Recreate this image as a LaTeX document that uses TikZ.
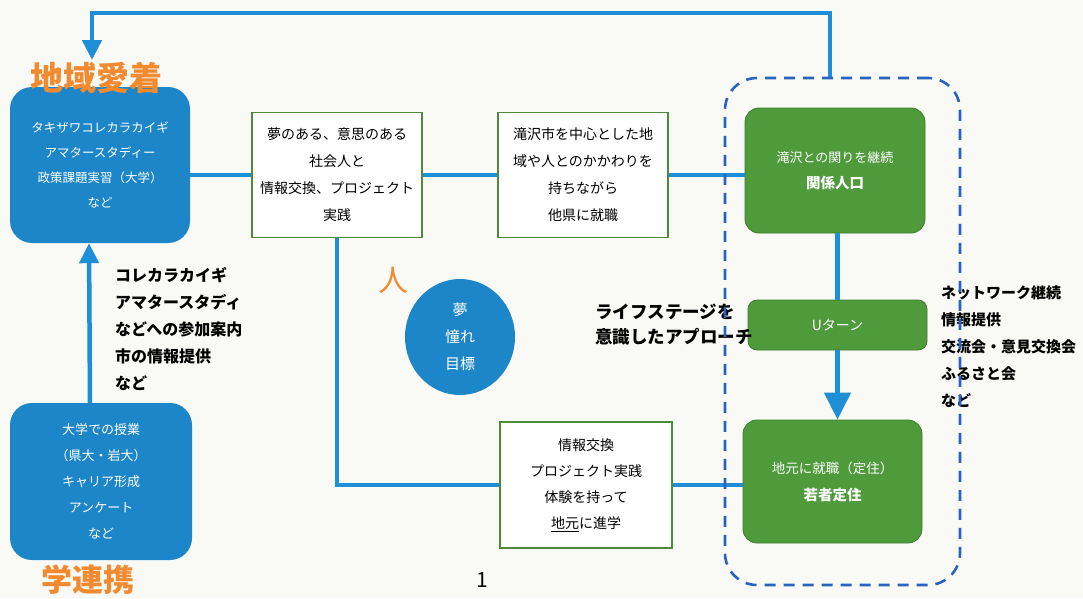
\documentclass[tikz,border=0pt]{standalone}
\usepackage{fontspec}
\setmainfont{Noto Sans CJK JP}
\usetikzlibrary{arrows.meta,shapes.geometric}
\definecolor{lineblue}{HTML}{1E8ED6}
\definecolor{boxblue}{HTML}{1D86C9}
\definecolor{gfill}{HTML}{4F9A3B}
\definecolor{gdraw}{HTML}{3D7B2E}
\definecolor{wborder}{HTML}{4E8A3A}
\definecolor{dashblue}{HTML}{2A62C0}
\definecolor{orng}{HTML}{F28A30}
\definecolor{paper}{HTML}{F9F9F6}
\begin{document}
\begin{tikzpicture}[x=1pt,y=-1pt,
  conn/.style={draw=lineblue, line width=4.5pt},
  arr/.style={conn, -{Triangle[width=19pt,length=20pt]}},
  bigarr/.style={conn, -{Triangle[width=26pt,length=27pt]}},
  bluebox/.style={fill=boxblue, rounded corners=22pt, text=white, align=center, inner sep=0pt},
  whitebox/.style={fill=white, draw=wborder, line width=1.3pt, align=center, inner sep=0pt, font=\fontsize{14}{27}\selectfont},
  greenbox/.style={fill=gfill, draw=gdraw, line width=0.8pt, rounded corners=14pt, text=white, align=center, inner sep=0pt},
  blacklbl/.style={align=left, font=\fontsize{16}{27}\selectfont\bfseries, inner sep=0pt, anchor=west},
  orangelbl/.style={text=orng, font=\fontsize{33}{33}\selectfont\bfseries, inner sep=0pt},
  groupbox/.style={draw=dashblue, line width=2.6pt, dash pattern=on 11pt off 8pt, rounded corners=32pt}
]
\path[use as bounding box, fill=paper] (0,0) rectangle (1083,598);

% nodes
\node[bluebox, minimum width=180pt, minimum height=156pt, font=\fontsize{12.5}{25}\selectfont] (box1) at (100,165)
  {タキザワコレカラカイギ\\アマタースタディー\\政策課題実習（大学）\\など};
\node[bluebox, minimum width=182pt, minimum height=157pt, font=\fontsize{13}{26}\selectfont] (box5) at (101,481.5)
  {大学での授業\\（県大・岩大）\\キャリア形成\\アンケート\\など};
\node[whitebox, minimum width=170pt, minimum height=125pt] (box2) at (337,175)
  {夢のある、意思のある\\社会人と\\情報交換、プロジェクト\\実践};
\node[whitebox, minimum width=170pt, minimum height=125pt] (box3) at (583,175)
  {滝沢市を中心とした地\\域や人とのかかわりを\\持ちながら\\他県に就職};
\node[whitebox, minimum width=172pt, minimum height=126pt, font=\fontsize{14}{26}\selectfont] (box4) at (586,485)
  {情報交換\\プロジェクト実践\\体験を持って\\\underline{地元}に進学};
\node[greenbox, minimum width=180pt, minimum height=125pt, font=\fontsize{13}{26}\selectfont] (g1) at (835,170.5)
  {滝沢との関りを継続\\{\bfseries\fontsize{14.5}{26}\selectfont 関係人口}};
\node[greenbox, minimum width=179pt, minimum height=50pt, rounded corners=9pt, font=\fontsize{14}{20}\selectfont] (uturn) at (837.5,325)
  {Uターン};
\node[greenbox, minimum width=179pt, minimum height=123pt, font=\fontsize{13.5}{27}\selectfont] (g3) at (832.5,481.5)
  {地元に就職（定住）\\{\bfseries\fontsize{14.5}{27}\selectfont 若者定住}};
\node[ellipse, fill=boxblue, text=white, minimum width=110pt, minimum height=116pt, inner sep=0pt, align=center, font=\fontsize{15}{27}\selectfont] (dream) at (460,337)
  {夢\\憧れ\\目標};

% connectors
\coordinate (loopstart) at (830,78);
\coordinate (looptip) at (92,60);
\draw[arr] (loopstart) -- (830,13) -| (looptip);
\draw[conn] (box2.west) -- (box2.west -| box1.east);
\draw[conn] (box2.east) -- (box3.west);
\draw[conn] (box3.east) -- (box3.east -| g1.west);
\draw[conn] (box2.south) |- (box4.west);
\draw[conn] (box4.east) -- (box4.east -| g3.west);
\draw[arr] ([xshift=-11pt]box5.north) -- ([xshift=-11pt]box1.south);
\draw[conn] (g1.south -| uturn.north) -- (uturn.north);
\draw[bigarr] (uturn.south) -- (uturn.south |- g3.north);

% labels
\node[orangelbl] (aichaku) at (96,78) {地域愛着};
\node[orangelbl, font=\fontsize{31}{31}\selectfont\bfseries] (renkei) at (88,580) {学連携};
\node[orangelbl, font=\fontsize{30}{30}\selectfont] (hito) at (393,280) {人};
\node[blacklbl] (leftlist) at (115,329)
  {コレカラカイギ\\アマタースタディ\\などへの参加案内\\市の情報提供\\など};
\node[blacklbl, font=\fontsize{15}{27}\selectfont\bfseries] (rightlist) at (941,347)
  {ネットワーク継続\\情報提供\\交流会・意見交換会\\ふるさと会\\など};
\node[blacklbl, font=\fontsize{17.5}{25}\selectfont\bfseries] (approach) at (595,324.5)
  {ライフステージを\\意識したアプローチ};
\node[inner sep=0pt, font=\fontsize{21}{21}\selectfont] (pagenum) at (482,580) {1};

% dashed group
\node[groupbox, minimum width=235pt, minimum height=507pt] (group) at (842.5,331.5) {};
\end{tikzpicture}
\end{document}
